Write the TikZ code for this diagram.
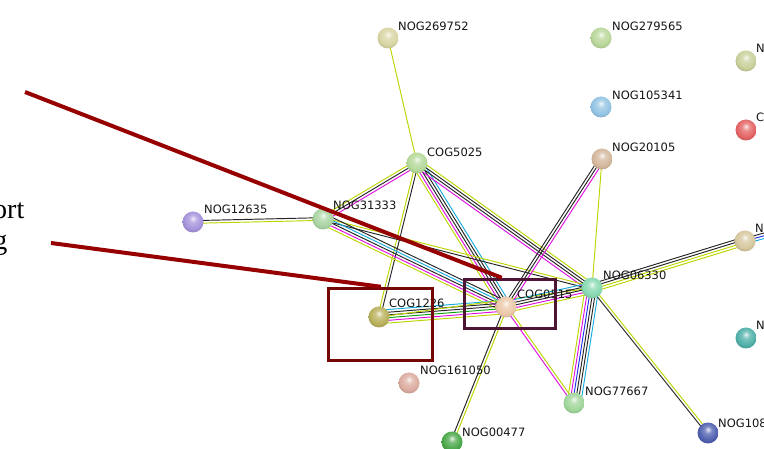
\documentclass[tikz,border=0pt]{standalone}
\usepackage{fontspec}
\usetikzlibrary{calc,backgrounds}
\newfontfamily\lblfont{DejaVu Sans}
\newfontfamily\serifb{Liberation Serif}
\definecolor{tm}{HTML}{BCD400}
\definecolor{ko}{HTML}{262626}
\definecolor{mg}{HTML}{E010E0}
\definecolor{cy}{HTML}{18ACDE}
\definecolor{gn}{HTML}{10A010}
\definecolor{bl}{HTML}{2030F0}
\definecolor{annred}{HTML}{960000}
\definecolor{boxred}{HTML}{740606}
\definecolor{boxplum}{HTML}{4E1434}
\definecolor{b269752}{HTML}{D8D5A3}
\definecolor{b279565}{HTML}{B9D79A}
\definecolor{btr}{HTML}{C9D09A}
\definecolor{b105341}{HTML}{94C4E4}
\definecolor{bred}{HTML}{E46464}
\definecolor{b5025}{HTML}{B5D99A}
\definecolor{b20105}{HTML}{D4B79C}
\definecolor{b12635}{HTML}{A593DC}
\definecolor{b31333}{HTML}{A9D4A3}
\definecolor{btan}{HTML}{D6C79E}
\definecolor{b06330}{HTML}{86D9B0}
\definecolor{b0515}{HTML}{ECC8A8}
\definecolor{b1226}{HTML}{B9B05A}
\definecolor{bteal}{HTML}{4FB0A8}
\definecolor{b161050}{HTML}{DCACA0}
\definecolor{b77667}{HTML}{A0D69A}
\definecolor{b00477}{HTML}{4AA84A}
\definecolor{b108}{HTML}{5060B0}
\colorlet{ballc}{gray}
\pgfdeclareradialshading[ballc]{stringball}{\pgfpoint{0bp}{9bp}}{%
  color(0bp)=(ballc!15!white); color(9bp)=(ballc!75!white);
  color(22bp)=(ballc); color(32bp)=(ballc!82!black); color(50bp)=(ballc!60!black)}
\tikzset{
  sball/.style={circle, minimum size=21pt, inner sep=0pt, shading=stringball,
    /utils/exec={\colorlet{ballc}{#1}}},
  lbl/.style={anchor=west, inner sep=0pt, font=\lblfont\fontsize{11.5}{13}\selectfont, text=black!92},
  edgeln/.style={line width=0.95pt},
  annline/.style={draw=annred, line width=4pt},
}
% #1 from, #2 to, #3 count, #4 colour list
\newcommand\bundle[4]{%
  \foreach \cc [count=\i] in {#4}{%
    \pgfmathsetmacro\off{(\i-(#3+1)/2)*2.7}%
    \draw[edgeln, \cc] ($(#1)!\off pt!90:(#2)$) -- ($(#2)!\off pt!-90:(#1)$);
  }}
\begin{document}
\begin{tikzpicture}[x=1pt,y=-1pt]
\useasboundingbox (0,0) rectangle (764,449);
\clip (0,0) rectangle (764,449);
% balls
\node[sball=b269752] (n269752) at (388,38) {};
\node[sball=b279565] (n279565) at (601,38) {};
\node[sball=btr] (ntr) at (746,61) {};
\node[sball=b105341] (n105341) at (601,107) {};
\node[sball=bred] (cred) at (746,130) {};
\node[sball=b5025] (c5025) at (417,163) {};
\node[sball=b20105] (n20105) at (602,159) {};
\node[sball=b12635] (n12635) at (193,222) {};
\node[sball=b31333] (n31333) at (323,219) {};
\node[sball=btan] (ntan) at (745,241) {};
\node[sball=b06330] (n06330) at (592,288) {};
\node[sball=b0515] (c0515) at (506,307) {};
\node[sball=b1226] (c1226) at (379,317) {};
\node[sball=bteal] (nteal) at (746,338) {};
\node[sball=b161050] (n161050) at (409,383) {};
\node[sball=b77667] (n77667) at (574,403) {};
\node[sball=b00477] (n00477) at (452,442) {};
\node[sball=b108] (n108) at (708,433) {};
\coordinate (offR) at (800,226);
% labels
\node[lbl] (l269752) at ($(n269752)+(10,-12)$) {NOG269752};
\node[lbl] (l279565) at ($(n279565)+(11,-12)$) {NOG279565};
\node[lbl] (ltr) at ($(ntr)+(10,-13)$) {N};
\node[lbl] (l105341) at ($(n105341)+(11,-12)$) {NOG105341};
\node[lbl] (lred) at ($(cred)+(10,-13)$) {C};
\node[lbl] (l5025) at ($(c5025)+(10,-11)$) {COG5025};
\node[lbl] (l20105) at ($(n20105)+(10,-12)$) {NOG20105};
\node[lbl] (l12635) at ($(n12635)+(11,-13)$) {NOG12635};
\node[lbl] (l31333) at ($(n31333)+(10,-14)$) {NOG31333};
\node[lbl] (ltan) at ($(ntan)+(10,-13)$) {N};
\node[lbl] (l06330) at ($(n06330)+(11,-13)$) {NOG06330};
\node[lbl] (l0515) at ($(c0515)+(11,-13)$) {COG0515};
\node[lbl] (l1226) at ($(c1226)+(10,-14)$) {COG1226};
\node[lbl] (lteal) at ($(nteal)+(10,-13)$) {N};
\node[lbl] (l161050) at ($(n161050)+(11,-13)$) {NOG161050};
\node[lbl] (l77667) at ($(n77667)+(11,-12)$) {NOG77667};
\node[lbl] (l00477) at ($(n00477)+(10,-10)$) {NOG00477};
\node[lbl] (l108) at ($(n108)+(10,-10)$) {NOG108};
% edges
\begin{pgfonlayer}{background}
\bundle{n269752}{c5025}{1}{tm}
\bundle{c5025}{n31333}{3}{tm,ko,mg}
\bundle{c5025}{c1226}{2}{tm,ko}
\bundle{c5025}{c0515}{5}{tm,mg,ko,ko,cy}
\bundle{c5025}{n06330}{4}{mg,ko,ko,tm}
\bundle{n12635}{n31333}{2}{tm,ko}
\bundle{n31333}{n06330}{2}{ko,tm}
\bundle{n31333}{c0515}{5}{tm,mg,ko,cy,ko}
\bundle{c1226}{c0515}{6}{tm,mg,gn,ko,ko,cy}
\bundle{c1226}{n06330}{1}{tm}
\bundle{c0515}{n06330}{5}{tm,mg,ko,ko,cy}
\bundle{c0515}{n20105}{3}{mg,ko,ko}
\bundle{n06330}{n20105}{1}{tm}
\bundle{c0515}{n00477}{2}{ko,tm}
\bundle{c0515}{n77667}{2}{mg,tm}
\bundle{n06330}{n77667}{6}{tm,mg,bl,ko,ko,cy}
\bundle{n06330}{n108}{2}{ko,tm}
\bundle{n06330}{ntan}{4}{tm,tm,ko,ko}
\bundle{ntan}{offR}{3}{cy,bl,ko}
\end{pgfonlayer}
% annotations
\node[draw=boxred, line width=3.5pt, inner sep=0pt, minimum width=104pt, minimum height=72pt] (box1) at (380.5,324.5) {};
\node[draw=boxplum, line width=3.5pt, inner sep=0pt, minimum width=91pt, minimum height=49pt] (box2) at (510,304) {};
\coordinate (a1) at (25,92);
\coordinate (a2) at (51,243);
\draw[annline] (a1) -- ($(box2.north west)+(39,0)$);
\draw[annline] (a2) -- ($(box1.north west)+(54,0)$);
\node[anchor=base east, inner sep=0pt, font=\serifb\fontsize{28}{32}\selectfont] (tort) at (24.5,219) {ort};
\node[anchor=base east, inner sep=0pt, font=\serifb\fontsize{28}{32}\selectfont] (tg) at (7.5,250) {g};
\end{tikzpicture}
\end{document}
